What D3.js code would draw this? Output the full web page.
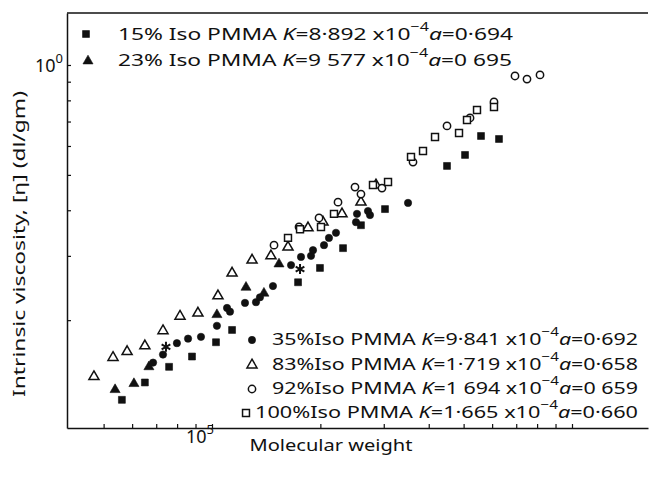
<!DOCTYPE html>
<html><head><meta charset="utf-8">
<script src="https://cdn.jsdelivr.net/npm/d3@7"></script>
<style>body{margin:0;background:#fff}svg{display:block}</style>
</head><body>
<svg id="chart" width="649" height="478"></svg>
<script>
// ---- data (molecular weight, intrinsic viscosity dl/gm) ----
const iso15M   = [56200, 65100, 76000, 88000, 102600, 113700, 173400, 199500, 231200, 259300, 302400, 449600, 504500, 558800, 626900];
const iso15Eta = [0.121, 0.135, 0.149, 0.159, 0.174, 0.188, 0.254, 0.278, 0.315, 0.364, 0.403, 0.529, 0.567, 0.639, 0.627];

const iso23M   = [53800, 60700, 66800, 103200, 124300, 139400, 153500];
const iso23Eta = [0.129, 0.134, 0.149, 0.207, 0.246, 0.237, 0.285];

const iso35M   = [68600, 73100, 79900, 85800, 93200, 103200, 110100, 112200, 123500, 132500, 135900, 147700, 165800, 176700, 188400, 190800, 204700, 211300, 221000, 251200, 252800, 271200, 274700, 350400];
const iso35Eta = [0.153, 0.161, 0.173, 0.178, 0.180, 0.193, 0.216, 0.211, 0.223, 0.224, 0.231, 0.248, 0.283, 0.298, 0.300, 0.311, 0.321, 0.336, 0.347, 0.371, 0.391, 0.398, 0.388, 0.419];

const iso83M   = [47000, 53100, 58100, 65100, 73100, 81500, 91400, 103900, 113700, 129200, 145800, 162600, 184800, 203400, 229700, 259300, 285400];
const iso83Eta = [0.140, 0.158, 0.164, 0.170, 0.187, 0.205, 0.209, 0.233, 0.269, 0.292, 0.300, 0.317, 0.358, 0.371, 0.391, 0.421, 0.469];

const iso92M   = [148700, 174500, 198300, 223900, 249600, 259300, 296600, 361700, 449600, 520900, 607200, 694500, 749900, 815000];
const iso92Eta = [0.321, 0.360, 0.381, 0.421, 0.463, 0.443, 0.460, 0.542, 0.681, 0.716, 0.792, 0.933, 0.915, 0.939];

const iso100M   = [162600, 175600, 200800, 218200, 280000, 308300, 357100, 385600, 416400, 485500, 510900, 544700, 607200];
const iso100Eta = [0.336, 0.355, 0.360, 0.391, 0.469, 0.478, 0.560, 0.581, 0.635, 0.651, 0.707, 0.753, 0.767];

const starM   = [74500, 175600];
const starEta = [0.169, 0.276];

const xTickValues = [5e4, 6e4, 7e4, 8e4, 9e4, 1e5, 2e5, 3e5, 4e5, 5e5, 6e5, 7e5, 8e5, 9e5, 1e6];
const yTickValues = [0.2, 0.3, 0.4, 0.5, 0.6, 0.7, 0.8, 0.9, 1.0];

const topLegend = [
  {pct: "15%", iso: " Iso PMMA ", k: "=8·892 x10", exp: "−4", a: "=0·694"},
  {pct: "23%", iso: " Iso PMMA ", k: "=9 577 x10", exp: "−4", a: "=0 695"}
];
const bottomLegend = [
  {pct: "35%", iso: "Iso PMMA ", k: "=9·841 x10", exp: "−4", a: "=0·692"},
  {pct: "83%", iso: "Iso PMMA ", k: "=1·719 x10", exp: "−4", a: "=0·658"},
  {pct: "92%", iso: "Iso PMMA ", k: "=1 694 x10", exp: "−4", a: "=0 659"},
  {pct: "100%", iso: "Iso PMMA ", k: "=1·665 x10", exp: "−4", a: "=0·660"}
];

// ---- drawing ----
const FONT = "'Noto Sans', 'DejaVu Sans', sans-serif";
const svg = d3.select("#chart");
const L = 67, R = 648, T = 13, B = 428;

const x = d3.scaleLog().domain([39560, 1626000]).range([L, R]);
const y = d3.scaleLog().domain([0.1013, 1.388]).range([B, T]);

const ink = "#111";

// frame lines
svg.append("line").attr("x1", L).attr("x2", R).attr("y1", T).attr("y2", T)
  .attr("stroke", ink).attr("stroke-width", 1.5);

const xAxis = d3.axisBottom(x).tickValues(xTickValues).tickFormat("").tickSizeInner(-4).tickSizeOuter(0);
const gx = svg.append("g").attr("transform", `translate(0,${B})`).call(xAxis);
gx.select(".domain").attr("stroke", ink).attr("stroke-width", 1.5);
gx.selectAll(".tick line").attr("stroke", ink).attr("stroke-width", 1.2);

const yAxis = d3.axisLeft(y).tickValues(yTickValues).tickFormat("").tickSizeInner(-4).tickSizeOuter(0);
const gy = svg.append("g").attr("transform", `translate(${L},0)`).call(yAxis);
gy.select(".domain").attr("stroke", ink).attr("stroke-width", 1.5);
gy.selectAll(".tick line").attr("stroke", ink).attr("stroke-width", 1.2);

// axis labels
const t5 = svg.append("text").attr("x", x(1e5) - 26).attr("y", 443)
  .attr("font-family", FONT).attr("font-size", 18).attr("fill", ink);
t5.append("tspan").text("10");
t5.append("tspan").attr("dy", -9).attr("font-size", 13).text("5");

const t0 = svg.append("text").attr("x", 35).attr("y", y(1.0) + 7)
  .attr("font-family", FONT).attr("font-size", 18).attr("fill", ink);
t0.append("tspan").text("10");
t0.append("tspan").attr("dy", -9).attr("font-size", 13).text("0");

svg.append("text").attr("x", 331).attr("y", 451).attr("text-anchor", "middle")
  .attr("font-family", FONT).attr("font-size", 16).attr("fill", ink)
  .attr("textLength", 163).attr("lengthAdjust", "spacingAndGlyphs")
  .text("Molecular weight");

svg.append("text").attr("transform", "translate(25,244) rotate(-90)").attr("text-anchor", "middle")
  .attr("font-family", FONT).attr("font-size", 16).attr("fill", ink)
  .attr("textLength", 306).attr("lengthAdjust", "spacingAndGlyphs")
  .text("Intrinsic viscosity, [η] (dl/gm)");

// markers
const sym = {
  sq: d3.symbol().type(d3.symbolSquare).size(48),
  tri: d3.symbol().type(d3.symbolTriangle).size(44),
  cir: d3.symbol().type(d3.symbolCircle).size(42),
  star: d3.symbol().type(d3.symbolAsterisk).size(70)
};
function plot(Ms, Es, shape, filled) {
  const pts = Ms.map((m, i) => [m, Es[i]]);
  svg.append("g").selectAll("path").data(pts).join("path")
    .attr("transform", d => `translate(${x(d[0])},${y(d[1])})`)
    .attr("d", sym[shape])
    .attr("fill", filled ? ink : "#fff")
    .attr("stroke", ink).attr("stroke-width", shape === "star" ? 2 : (filled ? 0.6 : 1.5));
}
plot(iso83M, iso83Eta, "tri", false);
plot(iso92M, iso92Eta, "cir", false);
plot(iso100M, iso100Eta, "sq", false);
plot(iso15M, iso15Eta, "sq", true);
plot(iso23M, iso23Eta, "tri", true);
plot(iso35M, iso35Eta, "cir", true);
plot(starM, starEta, "star", true);

// legends
function legendRow(px, py, row, len) {
  const t = svg.append("text").attr("x", px).attr("y", py)
    .attr("font-family", FONT).attr("font-size", 17).attr("fill", ink)
    .attr("textLength", len).attr("lengthAdjust", "spacingAndGlyphs");
  t.append("tspan").text(row.pct + row.iso);
  t.append("tspan").attr("font-style", "italic").text("K");
  t.append("tspan").text(row.k);
  t.append("tspan").attr("dy", -9).attr("font-size", 12).text(row.exp);
  t.append("tspan").attr("dy", 9).attr("font-style", "italic").text("a");
  t.append("tspan").text(row.a);
}
function legendMarker(px, py, shape, filled) {
  svg.append("path").attr("transform", `translate(${px},${py})`).attr("d", sym[shape])
    .attr("fill", filled ? ink : "#fff").attr("stroke", ink).attr("stroke-width", filled ? 0.6 : 1.5);
}
legendMarker(86, 34, "sq", true);
legendRow(118, 40, topLegend[0], 395);
legendMarker(88, 61, "tri", true);
legendRow(118, 66, topLegend[1], 394);

const bShapes = [["cir", true], ["tri", false], ["cir", false], ["sq", false]];
const bY = [345, 370, 394, 418];
bottomLegend.forEach((row, i) => {
  const mx = i === 3 ? 246 : 252;
  legendMarker(mx, bY[i] - 5, bShapes[i][0], bShapes[i][1]);
  const tx = i === 3 ? 255 : 272;
  legendRow(tx, bY[i], row, 638 - tx);
});
</script>
</body></html>
